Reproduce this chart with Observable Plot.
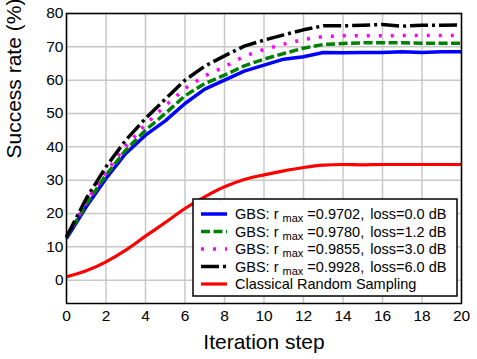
<!DOCTYPE html>
<html>
<head>
<meta charset="utf-8">
<script src="https://cdn.jsdelivr.net/npm/d3@7"></script>
<script src="https://cdn.jsdelivr.net/npm/@observablehq/plot@0.6"></script>
<style>
  body { margin: 0; background: #fff; }
  svg { display: block; }
</style>
</head>
<body>
<div id="chart"></div>
<script>
// Iteration steps and success rates (%) per sampling strategy
const steps = [0, 1, 2, 3, 4, 5, 6, 7, 8, 9, 10, 11, 12, 13, 14, 15, 16, 17, 18, 19, 20];
const gbsLoss00 = [12.5, 22.0, 30.5, 38.0, 43.5, 47.8, 53.0, 57.3, 60.0, 62.7, 64.5, 66.3, 67.0, 68.3, 68.2, 68.3, 68.3, 68.5, 68.3, 68.5, 68.5];
const gbsLoss12 = [12.8, 22.8, 31.5, 39.0, 45.0, 50.0, 55.3, 59.0, 61.5, 64.3, 66.3, 68.0, 69.6, 70.7, 71.0, 71.2, 71.2, 71.2, 71.1, 71.1, 71.1];
const gbsLoss30 = [13.0, 23.5, 32.5, 40.2, 46.7, 52.3, 57.5, 61.3, 64.0, 67.2, 69.2, 70.8, 72.2, 73.1, 73.3, 73.3, 73.3, 73.4, 73.4, 73.4, 73.4];
const gbsLoss60 = [13.0, 24.5, 34.0, 42.0, 48.5, 54.3, 60.0, 64.2, 67.3, 70.2, 72.0, 73.6, 75.1, 76.3, 76.3, 76.5, 76.7, 76.2, 76.5, 76.5, 76.6];
const classical = [1.0, 2.8, 5.5, 9.0, 13.2, 17.3, 21.5, 25.0, 28.0, 30.2, 31.6, 32.8, 33.8, 34.5, 34.7, 34.6, 34.7, 34.7, 34.7, 34.7, 34.7];

const xTicks = [0, 2, 4, 6, 8, 10, 12, 14, 16, 18, 20];
const yTicks = [0, 10, 20, 30, 40, 50, 60, 70, 80];

const rMax = ["0.9702", "0.9780", "0.9855", "0.9928"];
const lossDb = ["0.0", "1.2", "3.0", "6.0"];
const classicalLabel = "Classical Random Sampling";
const xLabel = "Iteration step";
const yLabel = "Success rate (%)";

const seriesStyles = [
  {values: gbsLoss00, stroke: "#0000ff", dash: null, width: 3.5, curve: "linear"},
  {values: gbsLoss12, stroke: "#008000", dash: "9,3.5", width: 3.5, curve: "linear"},
  {values: gbsLoss30, stroke: "#ff00ff", dash: "3,9", width: 3.5, curve: "linear"},
  {values: gbsLoss60, stroke: "#000000", dash: "18,4,3,4", width: 3.5, curve: "linear"},
  {values: classical, stroke: "#ff0000", dash: null, width: 3.2, curve: "monotone-x"}
];

const lineMarks = seriesStyles.map(s =>
  Plot.line(steps.map((t, i) => ({step: t, rate: s.values[i]})), {
    x: "step", y: "rate",
    stroke: s.stroke, strokeWidth: s.width,
    strokeDasharray: s.dash, curve: s.curve,
    strokeLinejoin: "round", strokeLinecap: "butt"
  })
);

const font = "'Liberation Sans', Arial, Helvetica, sans-serif";

const chart = Plot.plot({
  width: 477,
  height: 359,
  marginLeft: 66,
  marginRight: 16,
  marginTop: 13,
  marginBottom: 56,
  style: {fontFamily: font, fontSize: "15.5px", color: "#000", background: "#fff"},
  x: {domain: [0, 20], ticks: xTicks, tickSize: 0, tickPadding: 6, label: null},
  y: {domain: [-7, 80], ticks: yTicks, tickSize: 0, tickPadding: 3, label: null},
  marks: [
    Plot.gridX(xTicks, {stroke: "#c8c8c8", strokeOpacity: 1, strokeWidth: 1.5}),
    Plot.gridY(yTicks, {stroke: "#c8c8c8", strokeOpacity: 1, strokeWidth: 1.5}),
    ...lineMarks,
    Plot.frame({stroke: "#000", strokeWidth: 1.5}),
    Plot.text([xLabel], {frameAnchor: "bottom", dy: 39, fontSize: 21, lineAnchor: "middle"}),
    Plot.text([yLabel], {frameAnchor: "left", dx: -52, rotate: -90, fontSize: 21, lineAnchor: "middle"})
  ]
});

document.getElementById("chart").appendChild(chart);

// Legend box in the lower right of the plot area
const svg = d3.select(chart);
const legend = svg.append("g")
  .attr("font-family", font)
  .attr("font-size", 14.5)
  .attr("text-anchor", "start");
const box = {x: 193, y: 199, w: 264, h: 97};
legend.append("rect")
  .attr("x", box.x).attr("y", box.y).attr("width", box.w).attr("height", box.h)
  .attr("fill", "#fff").attr("stroke", "#000").attr("stroke-width", 1.5);

const rowGap = 17.5;
seriesStyles.forEach((s, i) => {
  const cy = box.y + 15 + i * rowGap;
  legend.append("line")
    .attr("x1", 201).attr("x2", 227).attr("y1", cy).attr("y2", cy)
    .attr("stroke", s.stroke).attr("stroke-width", s.width)
    .attr("stroke-dasharray", s.dash);
  const t = legend.append("text")
    .attr("x", 235).attr("y", cy + 5.2)
    .attr("text-anchor", "start").attr("fill", "#000");
  if (i < rMax.length) {
    t.append("tspan").text("GBS: r ");
    t.append("tspan").attr("font-size", 11).attr("dy", 3).text("max");
    t.append("tspan").attr("dy", -3).text(" =" + rMax[i] + ",");
    t.append("tspan").attr("dx", 6).text("loss=" + lossDb[i] + " dB");
  } else {
    t.text(classicalLabel);
  }
});
</script>
</body>
</html>
